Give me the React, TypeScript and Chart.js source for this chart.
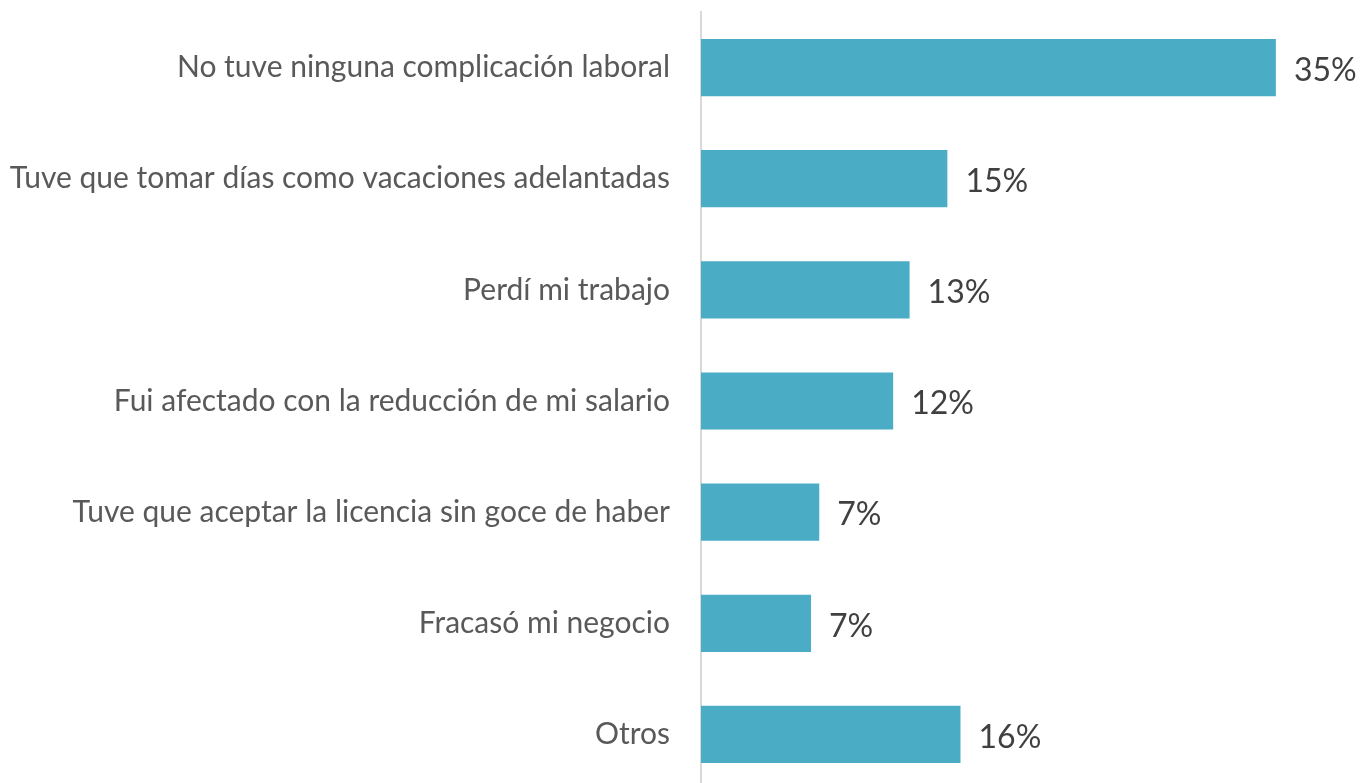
import React, { useEffect, useRef } from "react";
import { Chart, registerables } from "chart.js";

Chart.register(...registerables);

const categories = [
  "No tuve ninguna complicación laboral",
  "Tuve que tomar días como vacaciones adelantadas",
  "Perdí mi trabajo",
  "Fui afectado con la reducción de mi salario",
  "Tuve que aceptar la licencia sin goce de haber",
  "Fracasó mi negocio",
  "Otros",
];
const values = [35, 15, 12.7, 11.7, 7.2, 6.7, 15.8];
const valueLabels = ["35%", "15%", "13%", "12%", "7%", "7%", "16%"];

const FONT = "Lato, 'Open Sans', sans-serif";

export default function App() {
  const ref = useRef<HTMLCanvasElement | null>(null);
  useEffect(() => {
    if (!ref.current) return;
    const labelPlugin = {
      id: "valueLabels",
      afterDatasetsDraw(chart: any) {
        const ctx = chart.ctx;
        const meta = chart.getDatasetMeta(0);
        ctx.save();
        ctx.font = `32px ${FONT}`;
        ctx.fillStyle = "#404040";
        ctx.textAlign = "left";
        ctx.textBaseline = "middle";
        meta.data.forEach((bar: any, i: number) => {
          ctx.fillText(valueLabels[i], bar.x + 18, bar.y + 3);
        });
        ctx.restore();
      },
    };
    const chart = new Chart(ref.current, {
      type: "bar",
      data: {
        labels: categories,
        datasets: [
          {
            data: values,
            backgroundColor: "#4BACC6",
            borderWidth: 0,
            barPercentage: 0.515,
            categoryPercentage: 1,
          },
        ],
      },
      options: {
        indexAxis: "y",
        animation: false,
        responsive: false,
        maintainAspectRatio: false,
        layout: { padding: { top: 12, right: 4, bottom: 0, left: 0 } },
        plugins: {
          legend: { display: false },
          tooltip: { enabled: false },
        },
        scales: {
          x: { display: false, min: 0, max: 40 },
          y: {
            grid: { display: false, drawTicks: false },
            border: { display: true, color: "#d9d9d9", width: 2 },
            ticks: {
              color: "#595959",
              font: { family: FONT, size: 30 },
              padding: 31,
            },
            afterFit(scale: any) {
              scale.width = 701;
              scale.paddingTop = 0;
              scale.paddingBottom = 0;
            },
          },
        },
      },
      plugins: [labelPlugin],
    });
    return () => chart.destroy();
  }, []);
  return (
    <div style={{ position: "absolute", left: 0, top: 0, width: 1362, height: 790, background: "#fff" }}>
      <canvas ref={ref} width={1362} height={790} style={{ display: "block" }} />
    </div>
  );
}
